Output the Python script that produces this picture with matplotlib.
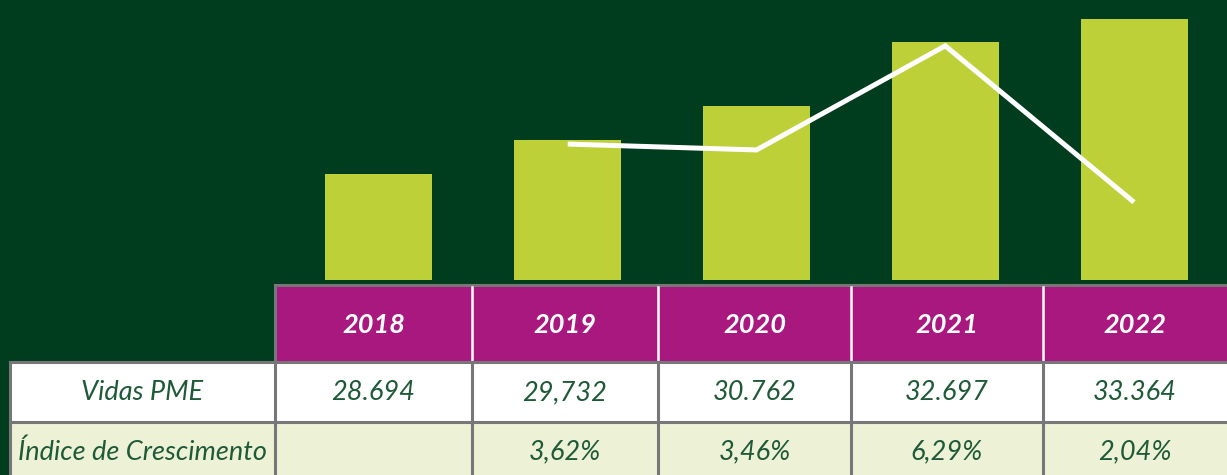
import matplotlib
matplotlib.use("Agg")
import matplotlib.pyplot as plt
from matplotlib.patches import Rectangle

# Data
years = ["2018", "2019", "2020", "2021", "2022"]
vidas_pme = [28694, 29732, 30762, 32697, 33364]
vidas_labels = ["28.694", "29,732", "30.762", "32.697", "33.364"]
growth_pct = [None, 3.62, 3.46, 6.29, 2.04]
growth_labels = ["", "3,62%", "3,46%", "6,29%", "2,04%"]
row_titles = ["Vidas PME", "Índice de Crescimento"]

# Colours
BG = "#003d1e"
BAR = "#bdd037"
HEADER = "#a8187f"
ROW2 = "#edf2d6"
GRID = "#77777a"
TEXT = "#1f5a38"

W, H = 1227, 475
fig = plt.figure(figsize=(W / 100, H / 100), dpi=100, facecolor=BG)

FONT = "Lato"

# Chart area: bars + growth line
bar_bottom_px = 280
ax = fig.add_axes([284.6 / W, (H - bar_bottom_px) / H, (1228.4 - 284.6) / W, bar_bottom_px / H])
ax.set_facecolor(BG)
x = list(range(len(years)))
ax.bar(x, vidas_pme, width=0.567, color=BAR, bottom=0)
ax.set_xlim(-0.5, len(years) - 0.5)
ax.set_ylim(25506, 33951)
ax.axis("off")

ax2 = ax.twinx()
gx = [i for i, g in zip(x, growth_pct) if g is not None]
gy = [g for g in growth_pct if g is not None]
ax2.plot(gx, gy, color="white", lw=3.6, solid_capstyle="butt", solid_joinstyle="miter")
ax2.set_ylim(-0.075, 7.536)
ax2.axis("off")

# Table area drawn in pixel space
tab = fig.add_axes([0, 0, 1, 1])
tab.set_xlim(0, W)
tab.set_ylim(H, 0)
tab.axis("off")

col_edges = [275, 472, 658, 851, 1043, 1240]
label_left = 10
header_top, header_bot = 285, 362
row1_bot = 422
row2_bot = 500

# Header row
tab.add_patch(Rectangle((col_edges[0], header_top), col_edges[-1] - col_edges[0],
                        header_bot - header_top, facecolor=HEADER, edgecolor="none"))
# Data rows
tab.add_patch(Rectangle((label_left, header_bot), col_edges[-1] - label_left,
                        row1_bot - header_bot, facecolor="white", edgecolor="none"))
tab.add_patch(Rectangle((label_left, row1_bot), col_edges[-1] - label_left,
                        row2_bot - row1_bot, facecolor=ROW2, edgecolor="none"))

# Grid lines
lw_grid = 2.2
tab.plot([col_edges[0], col_edges[-1]], [header_top, header_top], color=GRID, lw=lw_grid)
tab.plot([label_left, col_edges[-1]], [header_bot, header_bot], color=GRID, lw=lw_grid)
tab.plot([label_left, col_edges[-1]], [row1_bot, row1_bot], color=GRID, lw=lw_grid)
tab.plot([label_left, label_left], [header_bot, row2_bot], color=GRID, lw=lw_grid)
tab.plot([col_edges[0], col_edges[0]], [header_top, row2_bot], color=GRID, lw=lw_grid)
for xe in col_edges[1:-1]:
    tab.plot([xe, xe], [header_top + 2, header_bot - 1], color="white", lw=1.8)
    tab.plot([xe, xe], [header_bot, row2_bot], color=GRID, lw=lw_grid)

# Text
fs_head = 19.5
fs_body = 19.5
for i, yr in enumerate(years):
    cx = (col_edges[i] + col_edges[i + 1]) / 2 if i < len(years) - 1 else (col_edges[i] + 1227) / 2
    tab.text(cx, 325, yr, ha="center", va="center", color="white", fontsize=fs_head,
             fontfamily=FONT, fontweight="bold", fontstyle="italic")
    tab.text(cx, 393, vidas_labels[i], ha="center", va="center", color=TEXT, fontsize=fs_body,
             fontfamily=FONT, fontweight="normal", fontstyle="italic")
    if growth_labels[i]:
        tab.text(cx, 452, growth_labels[i], ha="center", va="center", color=TEXT, fontsize=fs_body,
                 fontfamily=FONT, fontweight="normal", fontstyle="italic")

lab_cx = (label_left + col_edges[0]) / 2
tab.text(lab_cx, 393, row_titles[0], ha="center", va="center", color=TEXT, fontsize=fs_body,
         fontfamily=FONT, fontweight="normal", fontstyle="italic")
tab.text(lab_cx, 452, row_titles[1], ha="center", va="center", color=TEXT, fontsize=fs_body,
         fontfamily=FONT, fontweight="normal", fontstyle="italic")

fig.savefig("out.png", dpi=100, facecolor=BG)
